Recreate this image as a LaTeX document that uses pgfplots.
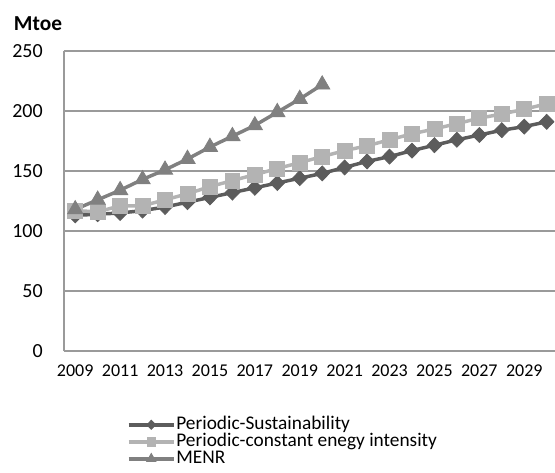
\documentclass[border=0pt]{standalone}
\usepackage{pgfplots}
\pgfplotsset{compat=1.18}
\usepackage{fontspec}
\setmainfont{Carlito}
\definecolor{csus}{HTML}{5C5C5C}
\definecolor{ccon}{HTML}{B3B3B3}
\definecolor{cmenr}{HTML}{808080}
\definecolor{cgrid}{HTML}{9A9A9A}
\begin{document}
\begin{tikzpicture}
\useasboundingbox (-48pt,-90.75pt) rectangle (368.25pt,263.25pt);
\begin{axis}[
  at={(0,0)}, anchor=south west,
  scale only axis, width=368.25pt, height=225pt,
  xmin=2008.5, xmax=2030.37, ymin=0, ymax=250,
  axis x line*=bottom, axis y line*=left,
  axis line style={draw=cgrid, line width=1.1pt},
  ymajorgrids, grid style={draw=cgrid, line width=1pt},
  major tick length=0pt,
  xtick={2009,2011,...,2029},
  ytick={0,50,...,250},
  /pgf/number format/assume math mode=true,
  /pgf/number format/1000 sep={},
  xticklabel style={font=\fontsize{13.5}{15}\selectfont, inner sep=0pt, anchor=north, yshift=-10.5pt},
  yticklabel style={font=\fontsize{15}{18}\selectfont, inner sep=0pt, anchor=east, xshift=-15.75pt},
  clip=false,
  legend cell align=left,
  legend style={draw=none, fill=none, at={(0.1275,-0.2167)}, anchor=north west,
    font=\fontsize{14.5}{17}\selectfont, inner sep=0pt, row sep=0pt,
    nodes={inner sep=0.5pt, text height=9.5pt, text depth=2.25pt}},
  legend image code/.code={\draw[mark repeat=2,mark phase=2,#1] plot coordinates {(0pt,0pt) (17pt,0pt) (34pt,0pt)};},
]
\addplot[forget plot, color=csus, line width=2.6pt, mark=diamond*, mark size=5.6pt, mark options={xscale=1.3, solid, line width=0.6pt}] coordinates {
(2009,113) (2010,114) (2011,115) (2012,117) (2013,120) (2014,124) (2015,128) (2016,132)
(2017,136) (2018,140) (2019,144) (2020,148) (2021,153) (2022,158) (2023,162) (2024,167)
(2025,171.5) (2026,176) (2027,180) (2028,184) (2029,187) (2030,191)};
\addplot[forget plot, color=ccon, line width=2.6pt, mark=square*, mark size=5.6pt, mark options={solid, line width=0.6pt}] coordinates {
(2009,117) (2010,116) (2011,121) (2012,121) (2013,126) (2014,131) (2015,137) (2016,142)
(2017,147) (2018,152) (2019,157) (2020,162) (2021,167) (2022,171) (2023,176) (2024,181)
(2025,185) (2026,189.5) (2027,194) (2028,197.5) (2029,201.5) (2030,206)};
\addplot[forget plot, color=cmenr, line width=2.6pt, mark=triangle*, mark size=6.6pt, mark options={solid, line width=0.6pt}] coordinates {
(2009,118) (2010,126) (2011,134) (2012,143) (2013,151) (2014,160) (2015,170) (2016,179)
(2017,188) (2018,199) (2019,210) (2020,222)};
\addlegendimage{color=csus, line width=2.6pt, mark=diamond*, mark size=3.4pt, mark options={xscale=1.3, solid, line width=0.6pt}}
\addlegendentry{Periodic-Sustainability}
\addlegendimage{color=ccon, line width=2.6pt, mark=square*, mark size=3.2pt, mark options={solid, line width=0.6pt}}
\addlegendentry{Periodic-constant enegy intensity}
\addlegendimage{color=cmenr, line width=2.6pt, mark=triangle*, mark size=4pt, mark options={solid, line width=0.6pt}}
\addlegendentry{MENR}
\end{axis}
\node[font=\fontsize{16}{19}\selectfont\bfseries] at (-19.5pt,245.25pt) {Mtoe};
\end{tikzpicture}
\end{document}
